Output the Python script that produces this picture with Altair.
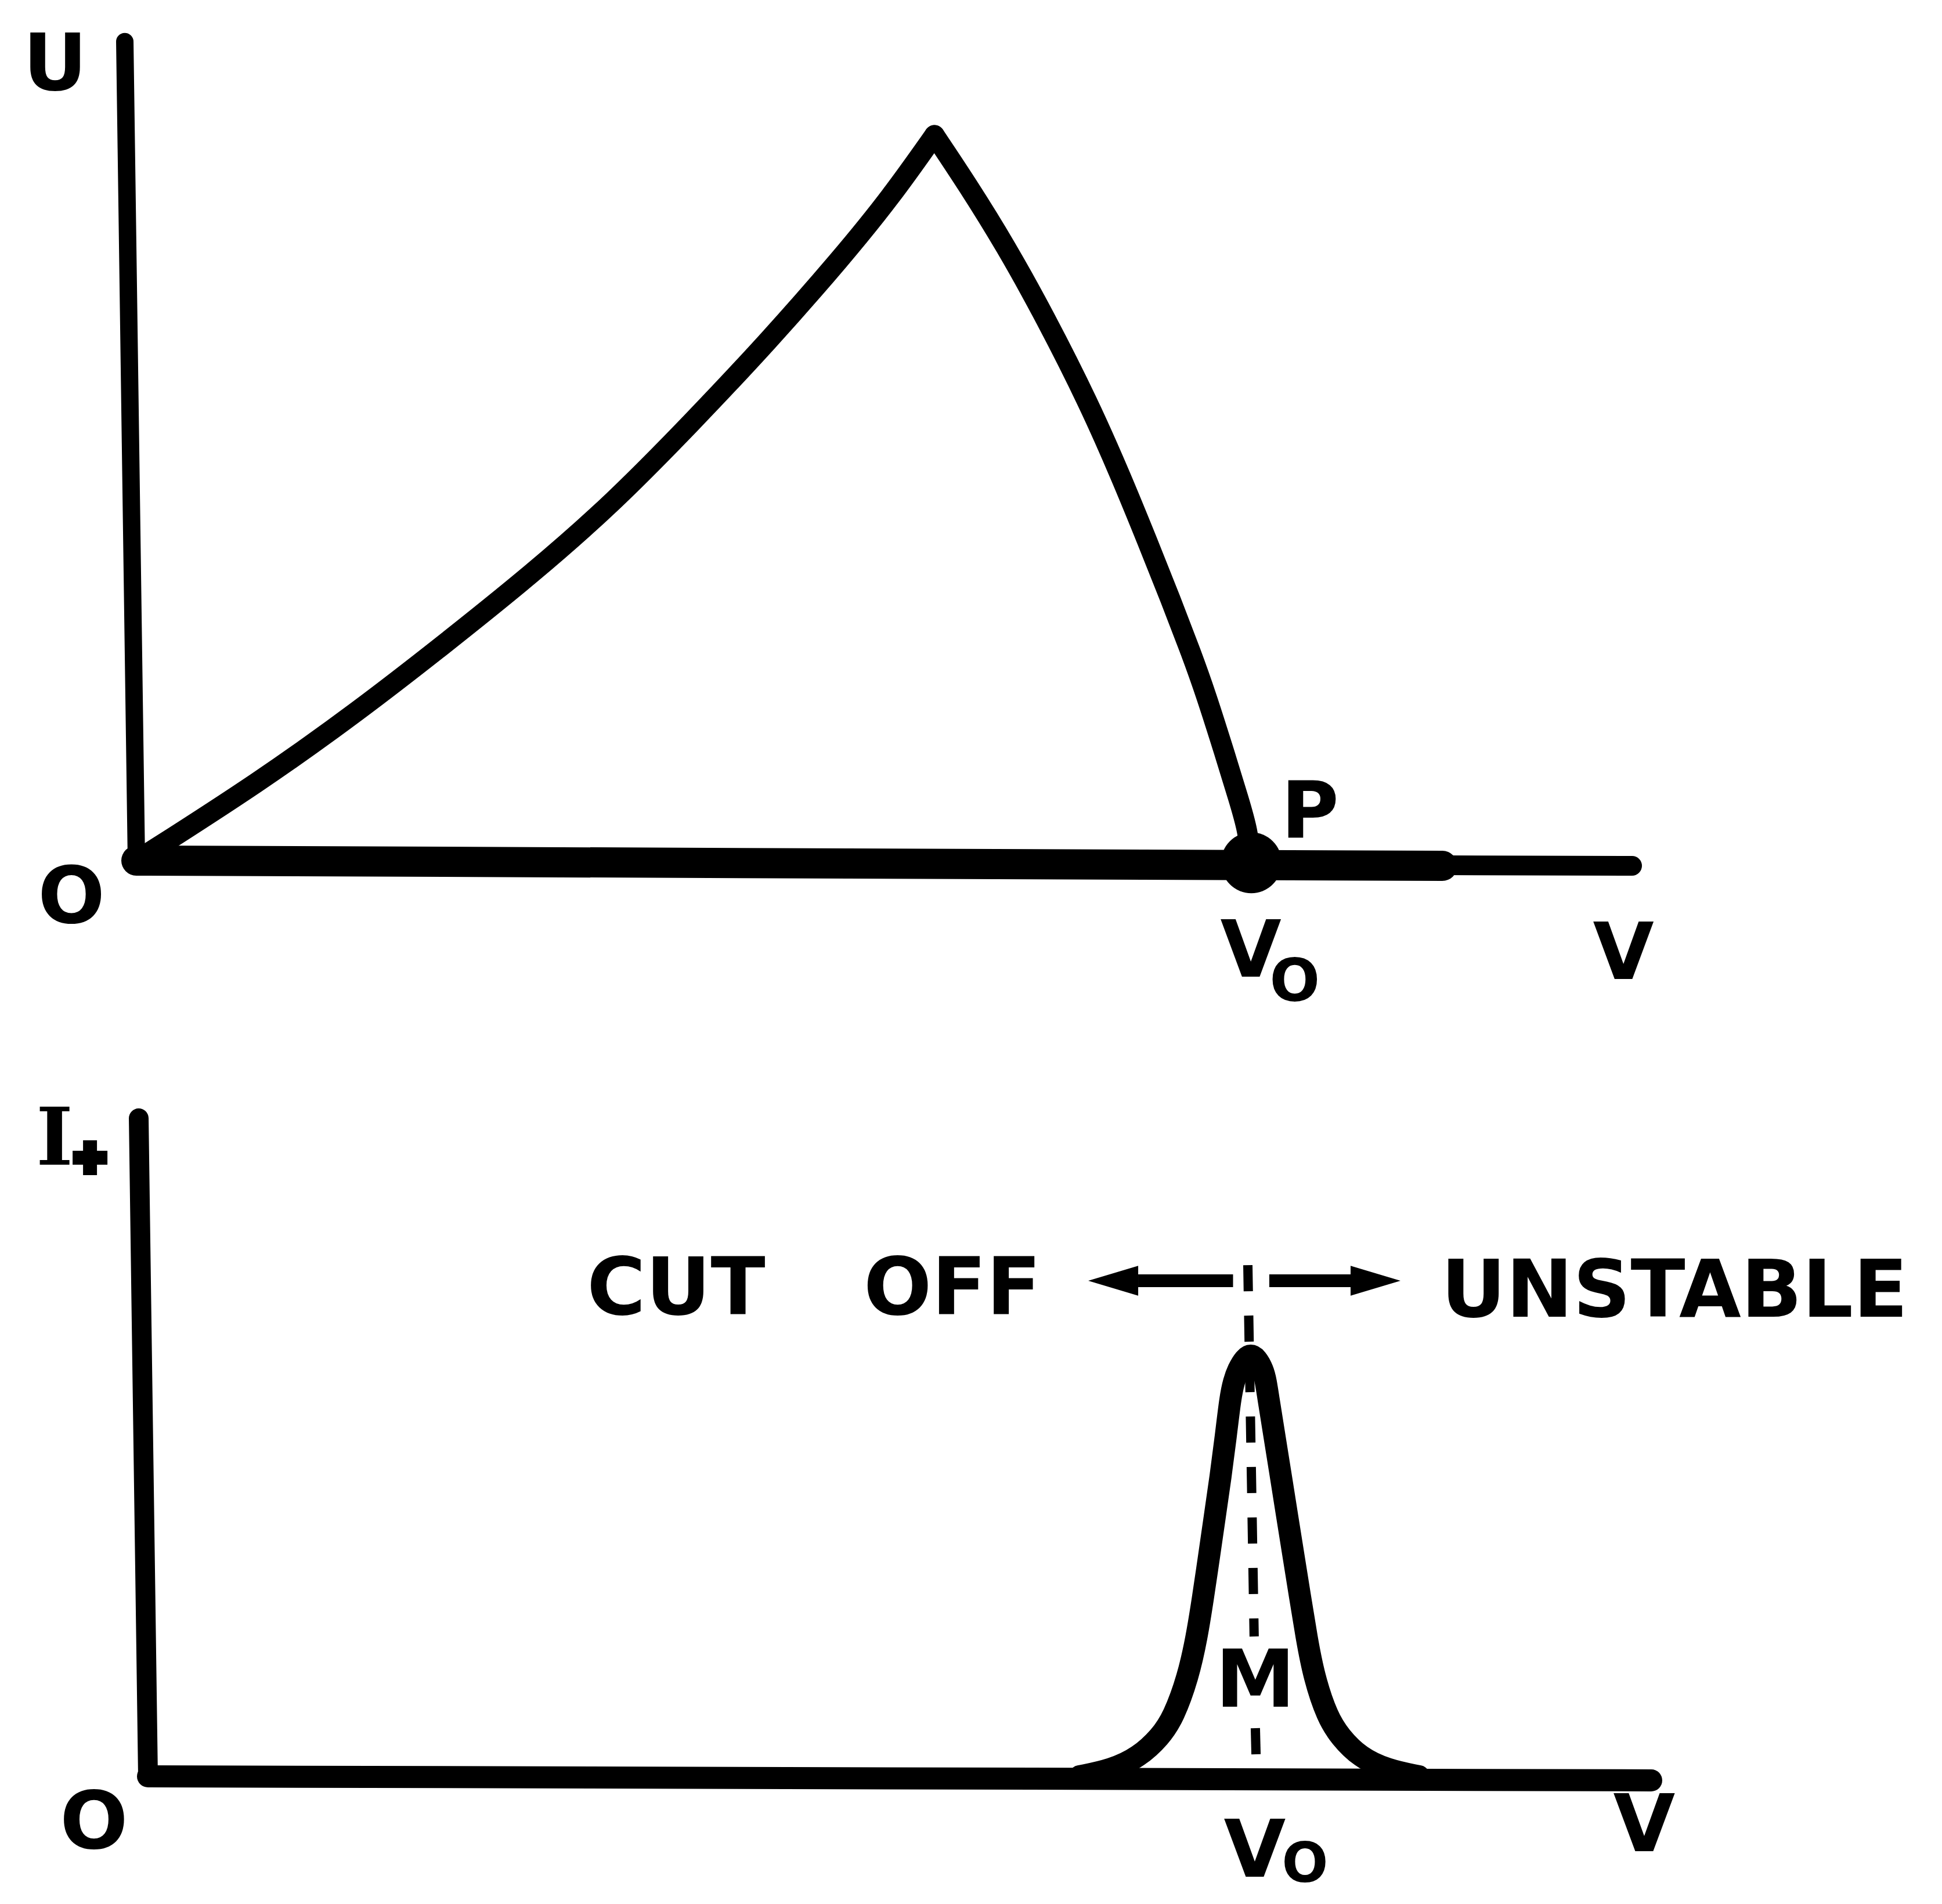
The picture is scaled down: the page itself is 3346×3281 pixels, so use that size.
import altair as alt
import pandas as pd

# ---------------- values ----------------
# Upper panel: U against V  (V in units of V0, U in units of the peak height)
# rising branch (origin -> peak) and falling branch (peak -> P)
u_rise_v = [0.000, 0.1109, 0.1999, 0.2723, 0.3555, 0.4274, 0.4987, 0.5664, 0.6330,
            0.6773, 0.7158]
u_rise_u = [0.000, 0.1088, 0.2072, 0.2936, 0.3960, 0.4928, 0.6048, 0.7152, 0.8320,
            0.9160, 1.000]
u_fall_v = [0.7158, 0.7454, 0.7798, 0.8147, 0.8548, 0.8839, 0.9068, 0.9276, 0.9464,
            0.9594, 0.9760, 0.9891, 0.9969, 1.000]
u_fall_u = [1.000, 0.932, 0.8472, 0.7504, 0.6288, 0.5264, 0.4400, 0.3600, 0.2848,
            0.2288, 0.1480, 0.0824, 0.0416, -0.003]

# Lower panel: I+ against V (peak normalised to 1, centred on V0 = 1)
i_curve_v = [0.8434, 0.8723, 0.8970, 0.9165, 0.9285, 0.9417, 0.9496, 0.9553, 0.9606,
             0.9658, 0.9711, 0.9758, 0.9800, 0.9832, 0.9869, 0.9932, 0.9984,
             1.0037, 1.0095, 1.0121, 1.0142, 1.0200, 1.0258, 1.0315, 1.0373, 1.0431,
             1.0489, 1.0557, 1.0678, 1.0794, 1.0972, 1.1219, 1.1508]
i_curve_i = [0.000, 0.0151, 0.0454, 0.0935, 0.1403, 0.2352, 0.3301, 0.4250, 0.5199,
             0.6149, 0.7098, 0.8047, 0.8996, 0.9367, 0.9642, 0.9917, 1.000,
             0.9917, 0.9642, 0.9367, 0.8996, 0.8047, 0.7098, 0.6149, 0.5199, 0.4250,
             0.3301, 0.2352, 0.1403, 0.0935, 0.0454, 0.0151, 0.000]

# hand-drawn axis strokes (start -> end), data units of each panel
top_vaxis = {"x": [-0.0104], "y": [1.129], "x2": [0.0], "y2": [0.0]}
top_haxis_thick = {"x": [0.0], "y": [0.0], "x2": [1.1713], "y2": [-0.0072]}
top_haxis_thin = {"x": [1.1713], "y": [-0.0064], "x2": [1.3415], "y2": [-0.0072]}
bot_vaxis = {"x": [-0.0084], "y": [1.5598], "x2": [0.0], "y2": [0.0]}
bot_haxis = {"x": [0.0], "y": [0.0], "x2": [1.3610], "y2": [-0.0096]}

# point P (V = V0, U = 0)
p_point = {"x": [1.0], "y": [-0.003]}

# dashed marker at V0 in the lower panel (interrupted by the label M)
v0_dash = {"x": [0.9958, 1.0026], "y": [1.2118, 0.1142],
           "x2": [1.0015, 1.0037], "y2": [0.3315, 0.0]}

# arrows "CUT OFF <-- | --> UNSTABLE"
arrow_shafts = {"x": [0.8965, 1.0152], "x2": [0.9824, 1.0893], "y": [1.1747, 1.1747]}
arrow_head_left = {"x": [0.8739], "y": [1.1747]}
arrow_head_right = {"x": [1.1114], "y": [1.1747]}

# labels (x centre, y baseline)
top_labels = {"t": ["U", "O", "P", "V", "V"],
              "x": [-0.0729, -0.0583, 1.0526, 0.9995, 1.3337],
              "y": [1.0624, -0.0856, 0.032, -0.160, -0.1632]}
top_sub = {"t": ["O"], "x": [1.0390], "y": [-0.1936]}
bot_labels = {"t": ["O", "V", "V", "M"],
              "x": [-0.0489, 1.0021, 1.3547, 1.0026],
              "y": [-0.1706, -0.2380, -0.1774, 0.1651]}
bot_words = {"t": ["CUT", "OFF", "UNSTABLE"],
             "x": [0.4782, 0.7283, 1.3820],
             "y": [1.0949, 1.0949, 1.0900]}
bot_sub = {"t": ["O"], "x": [1.0476], "y": [-0.2500]}
i_label = {"t": ["I"], "x": [-0.0846], "y": [1.4498]}
plus_sign = {"x": [-0.0525], "y": [1.4663]}

# ---------------- scales ----------------
W, H = 3330, 3258
TX = alt.Scale(domain=[-0.11817, 1.61531], nice=False, zero=False)
TY = alt.Scale(domain=[-1.4264, 1.18], nice=False, zero=False)
BX = alt.Scale(domain=[-0.12980, 1.62008], nice=False, zero=False)
BY = alt.Scale(domain=[-0.28198, 4.19945], nice=False, zero=False)

FONT = "DejaVu Sans"


def xy(xs, ys):
    return dict(x=alt.X("x:Q", scale=xs, axis=None),
                y=alt.Y("y:Q", scale=ys, axis=None))


def seg(data, xs, ys, w, cap="round", dash=None):
    kw = dict(color="black", strokeWidth=w, strokeCap=cap)
    if dash:
        kw["strokeDash"] = dash
    return alt.Chart(pd.DataFrame(data)).mark_rule(**kw).encode(
        x2="x2:Q", y2="y2:Q", **xy(xs, ys))


def curve(xv, yv, xs, ys, w):
    return alt.Chart(pd.DataFrame({"x": xv, "y": yv})).mark_line(
        color="black", strokeWidth=w, strokeJoin="round", strokeCap="round",
        interpolate="basis").encode(**xy(xs, ys))


def label(data, xs, ys, size, font=FONT):
    return alt.Chart(pd.DataFrame(data)).mark_text(
        align="center", baseline="alphabetic", font=font, fontWeight="bold",
        fontSize=size, color="black").encode(text="t:N", **xy(xs, ys))


# ---------------- upper panel ----------------
p_dot = alt.Chart(pd.DataFrame(p_point)).mark_point(
    shape="circle", filled=True, size=11000, color="black", opacity=1).encode(**xy(TX, TY))

upper = alt.layer(
    seg(top_vaxis, TX, TY, 30),
    seg(top_haxis_thick, TX, TY, 52),
    seg(top_haxis_thin, TX, TY, 34),
    curve(u_rise_v, u_rise_u, TX, TY, 35),
    curve(u_fall_v, u_fall_u, TX, TY, 35),
    p_dot,
    label(top_labels, TX, TY, 136),
    label(top_sub, TX, TY, 102),
)

# ---------------- lower panel ----------------
shafts = alt.Chart(pd.DataFrame(arrow_shafts)).mark_rule(
    color="black", strokeWidth=22, strokeCap="butt").encode(x2="x2:Q", **xy(BX, BY))
head_l = alt.Chart(pd.DataFrame(arrow_head_left)).mark_point(
    shape="M-1,0L1,-0.6L1,0.6Z", filled=True, size=7400, color="black",
    opacity=1).encode(**xy(BX, BY))
head_r = alt.Chart(pd.DataFrame(arrow_head_right)).mark_point(
    shape="M1,0L-1,-0.6L-1,0.6Z", filled=True, size=7400, color="black",
    opacity=1).encode(**xy(BX, BY))
plus = alt.Chart(pd.DataFrame(plus_sign)).mark_point(
    shape="cross", filled=True, size=3600, color="black", opacity=1).encode(**xy(BX, BY))

lower = alt.layer(
    seg(bot_vaxis, BX, BY, 34),
    seg(bot_haxis, BX, BY, 38),
    curve(i_curve_v, i_curve_i, BX, BY, 38),
    seg(v0_dash, BX, BY, 16, cap="butt", dash=[45, 42]),
    shafts, head_l, head_r,
    label(bot_labels, BX, BY, 138),
    label(bot_words, BX, BY, 138),
    label(bot_sub, BX, BY, 94),
    label(i_label, BX, BY, 136, font="DejaVu Serif"),
    plus,
)

chart = alt.layer(upper, lower).resolve_scale(
    x="independent", y="independent"
).properties(
    width=W, height=H, padding=0,
    autosize=alt.AutoSizeParams(type="none"),
    background="white",
).configure_view(stroke=None)

chart.save("out.html", embed_options={"renderer": "svg", "actions": False})
